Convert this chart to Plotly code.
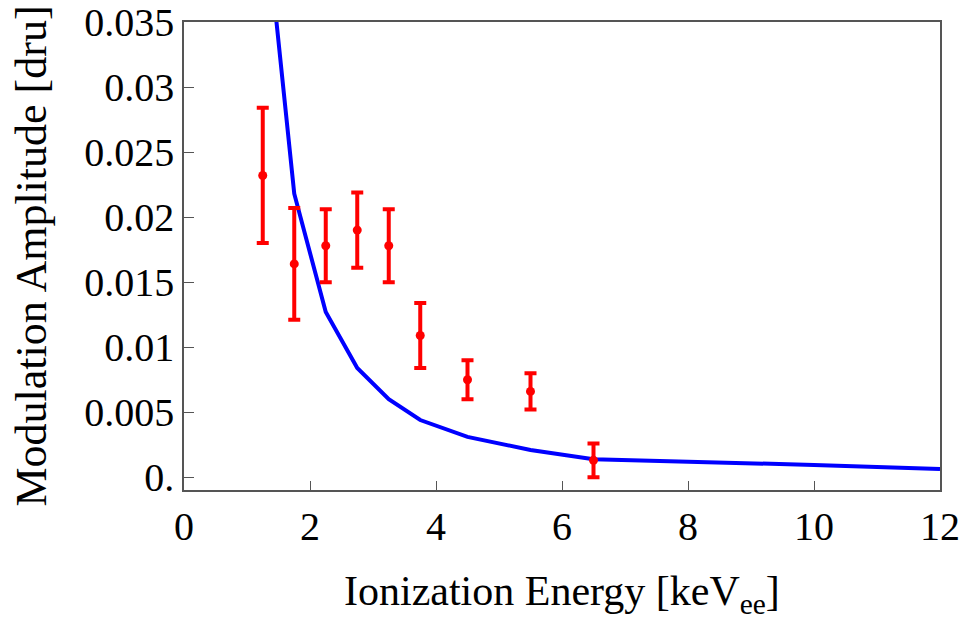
import plotly.graph_objects as go

# Data points (Ionization energy in keVee, modulation amplitude in dru)
energy = [1.25, 1.75, 2.25, 2.75, 3.25, 3.75, 4.5, 5.5, 6.5]
amplitude = [0.0232, 0.0164, 0.0178, 0.0190, 0.0178, 0.0109, 0.0075, 0.0066, 0.0013]
err_up = [0.0052, 0.0043, 0.0028, 0.0029, 0.0028, 0.0025, 0.0015, 0.0014, 0.0013]
err_dn = [0.0052, 0.0043, 0.0028, 0.0029, 0.0028, 0.0025, 0.0015, 0.0014, 0.0013]

# Model curve
curve_x = [1.25, 1.75, 2.25, 2.75, 3.25, 3.75, 4.5, 5.5, 6.5, 8, 10, 12]
curve_y = [0.0452, 0.0218, 0.0127, 0.0084, 0.0060, 0.0044, 0.0031, 0.0021, 0.00138, 0.00121, 0.00095, 0.00064]

x_ticks = [0, 2, 4, 6, 8, 10, 12]
y_ticks = [0, 0.005, 0.01, 0.015, 0.02, 0.025, 0.03, 0.035]
y_tick_text = ["0.", "0.005", "0.01", "0.015", "0.02", "0.025", "0.03", "0.035"]

FONT = "Liberation Serif"

fig = go.Figure()
fig.add_trace(go.Scatter(
    x=curve_x, y=curve_y, mode="lines",
    line=dict(color="#0000ff", width=4),
    showlegend=False, hoverinfo="skip",
))
fig.add_trace(go.Scatter(
    x=energy, y=amplitude, mode="markers",
    marker=dict(color="#ff0000", size=9),
    error_y=dict(type="data", symmetric=False, array=err_up, arrayminus=err_dn,
                 color="#ff0000", thickness=4, width=6),
    showlegend=False,
))

axis_common = dict(
    showgrid=False, zeroline=False, automargin=False,
    showline=True, linecolor="#555555", linewidth=1.5, mirror=True,
    ticks="inside", tickcolor="#555555", tickwidth=1.2,
    tickfont=dict(family=FONT, size=40, color="black"),
)

fig.update_xaxes(range=[0, 12], tickvals=x_ticks, ticklen=9, **axis_common)
fig.update_yaxes(
    range=[-0.00098, 0.035], tickvals=y_ticks, ticktext=y_tick_text, ticklen=10,
    title=dict(text="Modulation Amplitude [dru]",
               font=dict(family=FONT, size=44, color="black"), standoff=24),
    **axis_common,
)

fig.add_annotation(
    text="Ionization Energy [keV<sub>ee</sub>]",
    xref="paper", yref="paper", x=0.5, y=-0.222,
    xanchor="center", yanchor="middle", showarrow=False,
    font=dict(family=FONT, size=42, color="black"),
)

fig.update_layout(
    width=962, height=617,
    margin=dict(l=184, r=22, t=22, b=127),
    paper_bgcolor="white", plot_bgcolor="white",
)

fig.write_html(
    "out.html",
    config={"displayModeBar": False},
    post_script="document.body.style.margin='0';document.body.style.overflow='hidden';",
)
